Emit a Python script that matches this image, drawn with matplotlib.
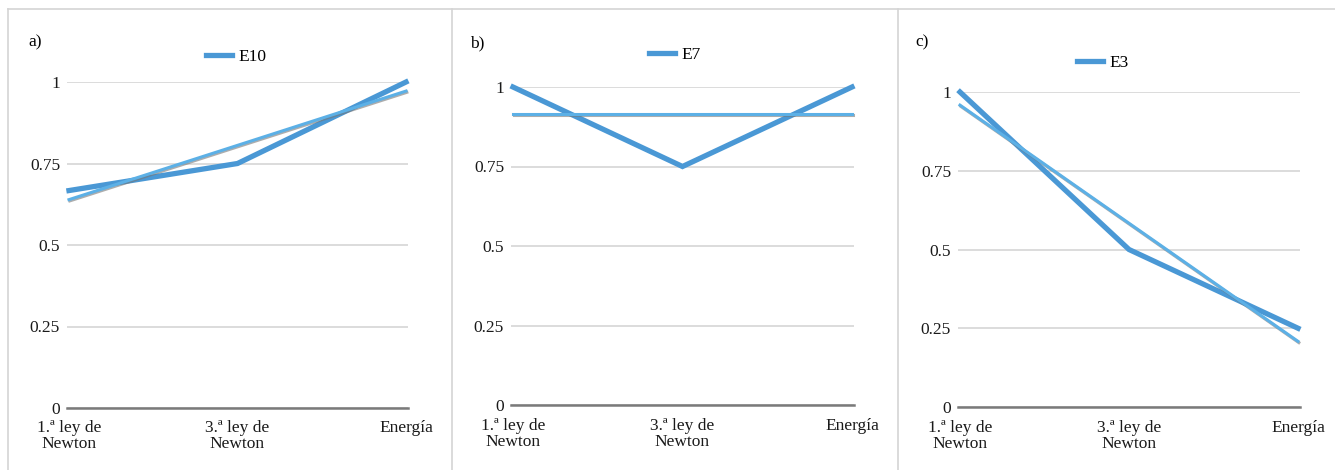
import matplotlib.pyplot as plt
import matplotlib.patheffects as pe
import numpy as np
from matplotlib.lines import Line2D

plt.rcParams['font.family'] = ['Liberation Serif', 'DejaVu Serif']

categories = ['1.ª ley de\nNewton', '3.ª ley de\nNewton', 'Energía']
yticks = [0, 0.25, 0.5, 0.75, 1]
ytick_labels = ['0', '0.25', '0.5', '0.75', '1']

panel_tags = ['a)', 'b)', 'c)']
series_names = ['E10', 'E7', 'E3']
e10 = [0.667, 0.75, 1.0]
e7 = [1.0, 0.75, 1.0]
e3 = [1.0, 0.5, 0.25]
series_values = [e10, e7, e3]

W, H = 1335, 470
main_color = '#4a98d5'
trend_color = '#5cb0e6'
fs = 12.5

# pixel layout of each panel: (x first point, x last point, y of 0, y of 1)
layout = [(67, 408, 408, 82), (511, 854, 405, 87), (958, 1300, 407, 92)]
tag_pos = [(28, 42), (470, 43), (915, 42)]
legend_pos = [(236, 57), (675, 55), (1103, 63)]

fig = plt.figure(figsize=(W / 100, H / 100), dpi=100)

# panel frames
for x in [8, 452, 898]:
    fig.add_artist(Line2D([x / W, x / W], [0, 1 - 9 / H], color='#d4d4d4', lw=1.2))
fig.add_artist(Line2D([8 / W, 1], [1 - 9 / H, 1 - 9 / H], color='#d4d4d4', lw=1.2))

for i in range(3):
    x0, x1, y0, y1 = layout[i]
    ax = fig.add_axes([x0 / W, 1 - y0 / H, (x1 - x0) / W, (y0 - y1) / H])
    xs = np.arange(1, 4)
    vals = series_values[i]
    pad = 2 / (x1 - x0) * 2
    ax.set_xlim(1 - pad, 3 + pad)
    ax.set_ylim(0, 1)

    line, = ax.plot(xs, vals, color=main_color, lw=3.8, solid_joinstyle='miter',
                    clip_on=False, zorder=3, label=series_names[i])
    # linear trend line (as in the original spreadsheet chart)
    k, b = np.polyfit(xs, vals, 1)
    ax.plot(xs, k * xs + b, color=trend_color, lw=2.2, clip_on=False, zorder=4,
            path_effects=[pe.SimpleLineShadow(offset=(0.6, -0.9), shadow_color='#777777', alpha=0.6),
                          pe.Normal()])

    ax.set_yticks(yticks)
    ax.set_yticklabels(ytick_labels)
    ax.set_xticks(xs)
    ax.set_xticklabels(categories, linespacing=1.0)
    ax.grid(axis='y', color='#d6d6d6', lw=1.2)
    ax.set_axisbelow(True)
    for s in ['top', 'right', 'left']:
        ax.spines[s].set_visible(False)
    ax.spines['bottom'].set_color('#7a7a7a')
    ax.spines['bottom'].set_linewidth(1.8)
    ax.spines['bottom'].set_zorder(2)
    ax.tick_params(axis='both', length=0, labelsize=fs, colors='#1a1a1a')
    ax.tick_params(axis='y', pad=5)
    ax.tick_params(axis='x', pad=9)
    ax.patch.set_alpha(0)

    lx, ly = legend_pos[i]
    ax.legend(handles=[line], loc='center', bbox_to_anchor=(lx / W, 1 - ly / H),
              bbox_transform=fig.transFigure, frameon=False, fontsize=fs,
              handlelength=1.5, handletextpad=0.4)

    tx, ty = tag_pos[i]
    fig.text(tx / W, 1 - ty / H, panel_tags[i], fontsize=fs, va='center', ha='left')

fig.savefig('out.png', dpi=100, facecolor='white')
